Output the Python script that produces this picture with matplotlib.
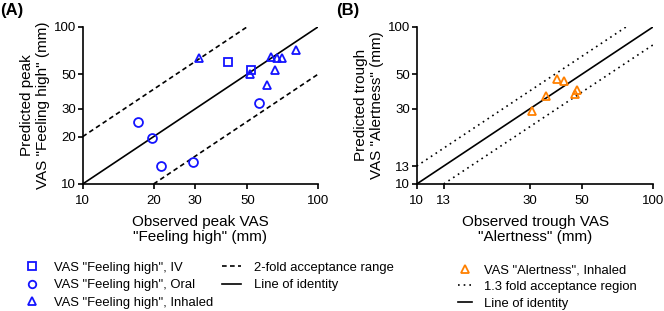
import numpy as np
import matplotlib
matplotlib.use("Agg")
import matplotlib.pyplot as plt
from matplotlib.lines import Line2D

plt.rcParams['font.family'] = ['Liberation Sans', 'DejaVu Sans']

# Panel A: VAS "Feeling high" (observed peak vs predicted peak, mm)
iv_obs = [41.2, 51.8]
iv_pred = [59.9, 53.0]
oral_obs = [17.1, 19.6, 21.4, 29.4, 56.0]
oral_pred = [24.7, 19.7, 13.1, 13.7, 32.6]
inh_obs = [31.3, 51.3, 60.4, 63.0, 65.4, 66.9, 69.9, 80.3]
inh_pred = [63.0, 49.8, 42.6, 63.8, 53.0, 63.2, 63.0, 71.1]
fold_a = 2.0

# Panel B: VAS "Alertness" (observed trough vs predicted trough, mm)
alert_obs = [30.6, 35.2, 39.3, 41.8, 46.5, 47.6]
alert_pred = [29.2, 36.1, 46.7, 44.9, 37.1, 39.6]
fold_b = 1.3

ticks_a = [10, 20, 30, 50, 100]
ticks_b = [10, 13, 30, 50, 100]
lims = (10, 100)

BLUE = '#1414ff'
ORANGE = '#ff8000'
FS_TICK = 9.5
FS_LABEL = 11
FS_LEG = 9.4


def style_axes(ax, ticks):
    ax.set_xscale('log')
    ax.set_yscale('log')
    ax.set_xlim(*lims)
    ax.set_ylim(*lims)
    for a in (ax.xaxis, ax.yaxis):
        a.set_major_locator(matplotlib.ticker.FixedLocator(ticks))
        a.set_major_formatter(matplotlib.ticker.FixedFormatter([str(t) for t in ticks]))
        a.set_minor_locator(matplotlib.ticker.NullLocator())
    ax.spines['top'].set_visible(False)
    ax.spines['right'].set_visible(False)
    for s in ('left', 'bottom'):
        ax.spines[s].set_linewidth(1.2)
    ax.tick_params(direction='out', length=3.3, width=1.2, labelsize=FS_TICK)
    ax.tick_params(axis='x', pad=4.5)
    ax.tick_params(axis='y', pad=1.5)


def fold_lines(ax, fold, ls):
    lo, hi = lims
    x = np.array([lo, hi])
    ax.plot(x, x, color='black', lw=1.2, solid_capstyle='butt')
    ax.plot([lo, hi / fold], [lo * fold, hi], color='black', lw=1.2, linestyle=ls)
    ax.plot([lo * fold, hi], [lo, hi / fold], color='black', lw=1.2, linestyle=ls)


fig = plt.figure(figsize=(6.64, 3.11), dpi=100)
axA = fig.add_axes([0.1245, 0.4084, 0.3549, 0.5058])
axB = fig.add_axes([0.6276, 0.4084, 0.3565, 0.5058])

dash = (0, (2.8, 2))
dot = (0, (1, 2.4))

xlab_kw = dict(fontsize=FS_LABEL, linespacing=1.12, labelpad=6)
ylab_kw = dict(fontsize=FS_LABEL, linespacing=1.25, labelpad=2.5)

# panel A
style_axes(axA, ticks_a)
fold_lines(axA, fold_a, dash)
mk = dict(mfc='none', ms=6.4, mew=1.3, ls='none', clip_on=False)
axA.plot(iv_obs, iv_pred, marker='s', color=BLUE, **mk)
axA.plot(oral_obs, oral_pred, marker='o', color=BLUE, **mk)
axA.plot(inh_obs, inh_pred, marker='^', color=BLUE, **mk)
axA.set_xlabel('Observed peak VAS\n"Feeling high" (mm)', **xlab_kw)
axA.set_ylabel('Predicted peak\nVAS "Feeling high" (mm)', **ylab_kw)

# panel B
style_axes(axB, ticks_b)
fold_lines(axB, fold_b, dot)
axB.plot(alert_obs, alert_pred, marker='^', color=ORANGE, **mk)
axB.set_xlabel('Observed trough VAS\n"Alertness" (mm)', **xlab_kw)
axB.set_ylabel('Predicted trough\nVAS "Alertness" (mm)', **ylab_kw)

fig.text(0.0, 1 - 10 / 311, '(A)', fontsize=12, fontweight='bold', va='center', ha='left')
fig.text(336.5 / 664, 1 - 10 / 311, '(B)', fontsize=12, fontweight='bold', va='center', ha='left')

# legends
lm = dict(mfc='none', ms=5.4, mew=1.3, ls='none')
hA1 = [Line2D([], [], marker='s', color=BLUE, **lm),
       Line2D([], [], marker='o', color=BLUE, **lm),
       Line2D([], [], marker='^', color=BLUE, **lm)]
lA1 = ['VAS "Feeling high", IV', 'VAS "Feeling high", Oral', 'VAS "Feeling high", Inhaled']
hA2 = [Line2D([], [], color='black', lw=1.2, linestyle=(0, (2.8, 2))),
       Line2D([], [], color='black', lw=1.2)]
lA2 = ['2-fold acceptance range', 'Line of identity']
hB = [Line2D([], [], marker='^', color=ORANGE, **lm),
      Line2D([], [], color='black', lw=1.2, linestyle=(0, (1, 2.4))),
      Line2D([], [], color='black', lw=1.2)]
lB = ['VAS "Alertness", Inhaled', '1.3 fold acceptance region', 'Line of identity']

leg_kw = dict(frameon=False, borderpad=0, borderaxespad=0, fontsize=FS_LEG,
              loc='upper left')
fig.legend(hA1, lA1, bbox_to_anchor=(22 / 664, 1 - 261.5 / 311), labelspacing=0.42,
           handlelength=1.5, handletextpad=0.92, **leg_kw)
fig.legend(hA2, lA2, bbox_to_anchor=(221.5 / 664, 1 - 261.5 / 311), labelspacing=0.42,
           handlelength=1.5, handletextpad=1.0, **leg_kw)
fig.legend(hB, lB, bbox_to_anchor=(458 / 664, 1 - 264 / 311), labelspacing=0.36,
           handlelength=1.06, handletextpad=0.9, **leg_kw)

fig.savefig('out.png', dpi=100)
